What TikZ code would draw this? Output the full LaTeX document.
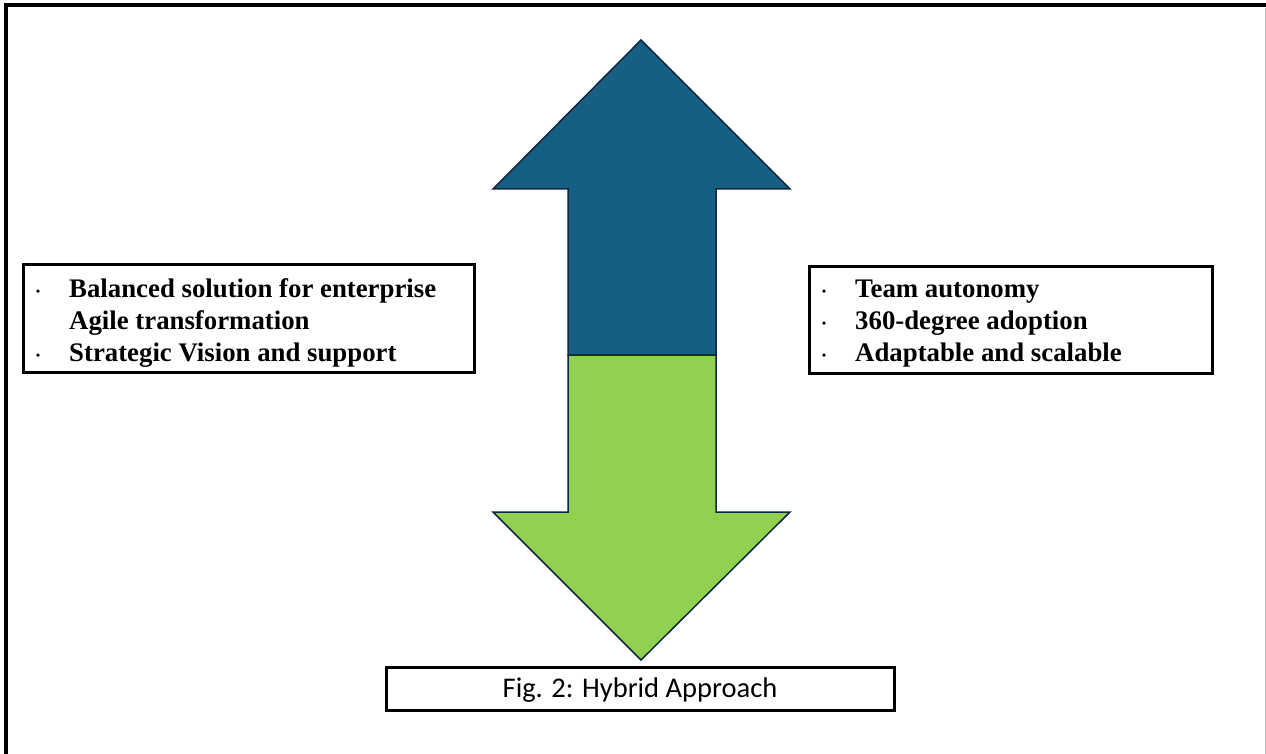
\documentclass[tikz,border=0pt]{standalone}
\usepackage{fontspec}
\setmainfont{Liberation Serif}
\newfontfamily\capfont{Carlito}
\usetikzlibrary{positioning}
\definecolor{arrowblue}{HTML}{156082}
\definecolor{arrowgreen}{HTML}{92D050}
\definecolor{arrowline}{HTML}{0E2841}
\tikzstyle{txtbox}=[draw, line width=3pt, inner sep=0pt]
\tikzstyle{item}=[anchor=base west, inner sep=0pt, font=\bfseries\fontsize{26.8}{32}\selectfont]
\tikzstyle{bul}=[anchor=base, inner sep=0pt, font=\fontsize{26.8}{32}\selectfont]
\tikzstyle{half}=[draw=arrowline, line width=1.5pt, line join=miter]

\begin{document}
\begin{tikzpicture}[x=1pt,y=-1pt]
\useasboundingbox (0,0) rectangle (1266,754);

% outer frame
\draw[line width=4pt] (6,758) -- (6,5.5) -- (1270,5.5);
\draw[black!25, line width=0.8pt] (1265.5,8) -- (1265.5,754);

% double arrow
\filldraw[half, fill=arrowblue] (641,40) -- (790,189) -- (716,189) -- (716,355)
  -- (568,355) -- (568,189) -- (493,189) -- cycle;
\filldraw[half, fill=arrowgreen] (568,355) -- (716,355) -- (716,512) -- (790,512)
  -- (641,660) -- (493,512) -- (568,512) -- cycle;

% left box
\node (lbox) [txtbox, minimum width=450.5pt, minimum height=108pt] at (248.75,318) {};
\node (lb1) [bul] at (38,300.5) {·};
\node (lt1) [item] at (69,297) {Balanced solution for enterprise};
\node (lt2) [item] at (69,329) {Agile transformation};
\node (lb3) [bul] at (38,364.5) {·};
\node (lt3) [item] at (69,361) {Strategic Vision and support};

% right box
\node (rbox) [txtbox, minimum width=402.5pt, minimum height=107pt] at (1010.75,320) {};
\node (rb1) [bul] at (824,300.5) {·};
\node (rt1) [item] at (855,297) {Team autonomy};
\node (rb2) [bul] at (824,332.5) {·};
\node (rt2) [item] at (855,329) {360-degree adoption};
\node (rb3) [bul] at (824,364.5) {·};
\node (rt3) [item] at (855,361) {Adaptable and scalable};

% caption
\node (cbox) [txtbox, minimum width=508pt, minimum height=43pt] at (640,689) {};
\node (ctxt) [anchor=base, inner sep=0pt, font=\capfont\fontsize{28.5}{34}\selectfont] at (640,697) {Fig. 2: Hybrid Approach};

\end{tikzpicture}
\end{document}
